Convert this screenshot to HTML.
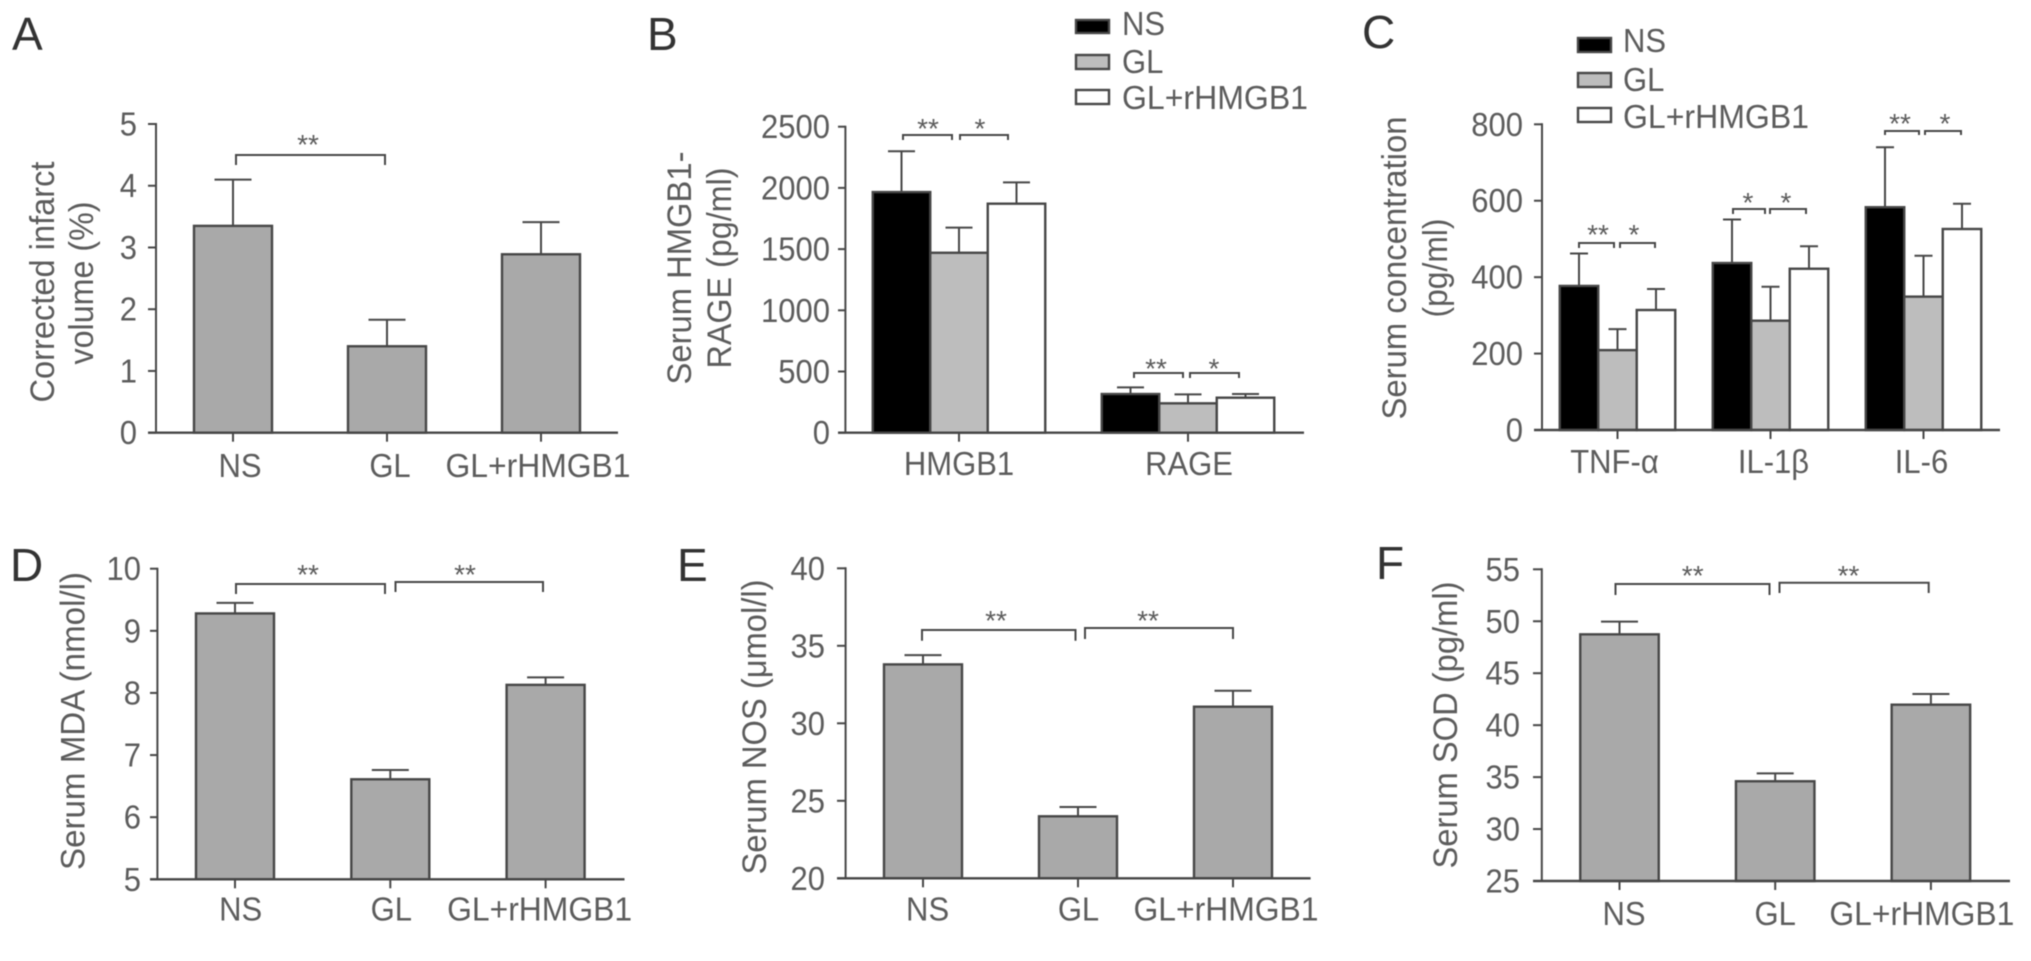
<!DOCTYPE html>
<html lang="en">
<head>
<meta charset="utf-8">
<title>Serum marker bar charts</title>
<style>
html,body{margin:0;padding:0;background:#fff;}
#figure{display:block;width:2031px;height:961px;background:#fff;filter:blur(0.5px);}
text{font-family:"Liberation Sans",sans-serif;fill:#5c5c5c;}
</style>
</head>
<body>
<svg id="figure" xmlns="http://www.w3.org/2000/svg" width="2031" height="961" viewBox="0 0 2031 961"></svg>
<script>
/* ---------- chart data ---------- */
const groupLabels = ['NS', 'GL', 'GL+rHMGB1'];

const aTicks = ['0', '1', '2', '3', '4', '5'];
const aValues = [3.35, 1.40, 2.89];
const aErrors = [0.75, 0.43, 0.52];

const bTicks = ['0', '500', '1000', '1500', '2000', '2500'];
const bCategories = ['HMGB1', 'RAGE'];
const bNS = [1966, 316];
const bGL = [1470, 240];
const bRescue = [1871, 286];
const bNSErr = [333, 54];
const bGLErr = [205, 73];
const bRescueErr = [174, 30];

const cTicks = ['0', '200', '400', '600', '800'];
const cCategories = ['TNF-α', 'IL-1β', 'IL-6'];
const cNS = [377, 437, 583];
const cGL = [209, 286, 349];
const cRescue = [314, 422, 526];
const cNSErr = [85, 114, 157];
const cGLErr = [55, 89, 107];
const cRescueErr = [55, 59, 66];

const dTicks = ['5', '6', '7', '8', '9', '10'];
const dValues = [9.28, 6.61, 8.13];
const dErrors = [0.17, 0.15, 0.12];

const eTicks = ['20', '25', '30', '35', '40'];
const eValues = [33.8, 24.0, 31.07];
const eErrors = [0.6, 0.6, 1.03];

const fTicks = ['25', '30', '35', '40', '45', '50', '55'];
const fValues = [48.74, 34.6, 41.97];
const fErrors = [1.22, 0.76, 1.03];

/* ---------- drawing helpers ---------- */
const svg = document.getElementById('figure');
const NS_URI = 'http://www.w3.org/2000/svg';
const INK = '#474747';
const TALL_TEXT = 1.07;

function shape(parent, tag, props, name) {
  const el = document.createElementNS(NS_URI, tag);
  for (const k in props) el.setAttribute(k, props[k]);
  
  
  parent.appendChild(el);
  return el;
}
function line(parent, x1, y1, x2, y2, name, width) {
  return shape(parent, 'line', {x1: x1, y1: y1, x2: x2, y2: y2, stroke: INK, 'stroke-width': width || 2}, name);
}
function label(parent, str, x, y, size, anchor, name, fit, rotate, color) {
  const props = {x: x, y: y, 'font-size': size, 'text-anchor': anchor};
  if (rotate) props.transform = 'rotate(-90 ' + x + ' ' + y + ')';
  if (color) props.style = 'fill:' + color;
  const el = shape(parent, 'text', props, name);
  el.textContent = str;
  /* the reference type is slightly taller than it is wide */
  let length = fit;
  if (size === 31 || size === 32) {
    if (!length) length = el.getComputedTextLength();
    el.setAttribute('font-size', size * TALL_TEXT);
  }
  if (length) {
    el.setAttribute('textLength', length);
    el.setAttribute('lengthAdjust', 'spacingAndGlyphs');
  }
  return el;
}

function drawPanel(p) {
  const g = shape(svg, 'g', {}, 'panel-' + p.letter.toLowerCase());
  label(g, p.letter, p.letterX, p.letterY, 46, 'start', 'panel-letter-' + p.letter.toLowerCase(), null, false, '#333');

  const yScale = function (v) {
    return p.y0 + (v - p.min) / (p.max - p.min) * (p.y1 - p.y0);
  };
  const xCenter = function (i) { return p.first + i * p.step; };

  /* bars and error bars */
  p.series.forEach(function (s, si) {
    s.values.forEach(function (v, i) {
      const offset = (si - (p.series.length - 1) / 2) * p.barW;
      const cx = xCenter(i) + offset;
      const top = yScale(v);
      const errTop = yScale(v + s.errors[i]);
      line(g, cx, top, cx, errTop, 'error-stem-' + s.key + '-' + i);
      line(g, cx - p.cap, errTop, cx + p.cap, errTop, 'error-cap-' + s.key + '-' + i);
      shape(g, 'rect', {
        x: cx - p.barW / 2, y: top, width: p.barW, height: p.y0 - top,
        fill: s.fill, stroke: INK, 'stroke-width': 2.4
      }, 'bar-' + s.key + '-' + i);
    });
  });

  /* axes */
  line(g, p.axisX, p.y1 - 1, p.axisX, p.y0, 'y-axis-line');
  line(g, p.tickLeft, p.y0, p.axisEnd, p.y0, 'x-axis-line', 2.4);
  p.ticks.forEach(function (t, i) {
    const v = p.min + i * (p.max - p.min) / (p.ticks.length - 1);
    const y = yScale(v);
    line(g, p.tickLeft, y, p.axisX, y, 'y-tick-' + t);
    label(g, t, p.tickRight, y + 11.5, 31, 'end', 'y-tick-label-' + t);
  });
  p.categories.forEach(function (c, i) {
    const cx = xCenter(i);
    line(g, cx, p.y0, cx, p.y0 + 9, 'x-tick-' + c);
    label(g, c, cx + p.labelDx[i], p.labelY, 31, 'middle', 'x-label-' + c,
      c === 'GL+rHMGB1' ? 185 : null);
  });

  /* axis titles */
  p.titles.forEach(function (t) {
    label(g, t.text, t.x, t.y, 32, 'middle', 'y-axis-title', t.fit, true);
  });

  /* significance brackets */
  p.brackets.forEach(function (b) {
    shape(g, 'path', {
      d: 'M' + b.x1 + ' ' + b.bot + 'V' + b.top + 'H' + b.x2 + 'V' + b.bot,
      fill: 'none', stroke: INK, 'stroke-width': 2
    }, 'significance-bracket');
    label(g, b.mark, b.sx, b.sy + 16, 28, 'middle', 'significance-stars');
  });

  /* legend */
  if (p.legend) {
    p.series.forEach(function (s, si) {
      const row = p.legend.rows[si];
      shape(g, 'rect', {
        x: p.legend.x, y: row.y, width: p.legend.w, height: row.h,
        fill: s.fill, stroke: INK, 'stroke-width': 2.4
      }, 'legend-swatch-' + s.key);
      label(g, groupLabels[si], p.legend.textX, row.base, 31, 'start', 'legend-label-' + s.key,
        si === 2 ? 186 : null);
    });
  }
}

const BAR_GREY = '#a9a9a9';
const BAR_BLACK = '#000000';
const BAR_LIGHT = '#bdbdbd';
const BAR_WHITE = '#ffffff';

drawPanel({
  letter: 'A', letterX: 12, letterY: 50,
  min: 0, max: 5, y0: 432.7, y1: 124,
  axisX: 156, tickLeft: 148, axisEnd: 618, tickRight: 137,
  ticks: aTicks, categories: groupLabels,
  first: 233, step: 154, barW: 78, cap: 18.5,
  labelDx: [7, 3, -3], labelY: 477,
  series: [{key: 'ns-gl-rhmgb1', values: aValues, errors: aErrors, fill: BAR_GREY}],
  titles: [
    {text: 'Corrected infarct', x: 54, y: 282, fit: 241},
    {text: 'volume (%)', x: 93, y: 283, fit: 163}
  ],
  brackets: [{x1: 236, x2: 385, top: 155, bot: 165, mark: '**', sx: 308, sy: 138}]
});

drawPanel({
  letter: 'B', letterX: 647, letterY: 50,
  min: 0, max: 2500, y0: 432.7, y1: 126.7,
  axisX: 845.4, tickLeft: 838, axisEnd: 1304, tickRight: 830,
  ticks: bTicks, categories: bCategories,
  first: 959, step: 229, barW: 57.5, cap: 13.5,
  labelDx: [0, 1], labelY: 475,
  series: [
    {key: 'ns', values: bNS, errors: bNSErr, fill: BAR_BLACK},
    {key: 'gl', values: bGL, errors: bGLErr, fill: BAR_LIGHT},
    {key: 'gl-rhmgb1', values: bRescue, errors: bRescueErr, fill: BAR_WHITE}
  ],
  titles: [
    {text: 'Serum HMGB1-', x: 691, y: 268, fit: 233},
    {text: 'RAGE (pg/ml)', x: 731, y: 268, fit: 201}
  ],
  brackets: [
    {x1: 903, x2: 952, top: 135, bot: 140, mark: '**', sx: 928, sy: 122},
    {x1: 960, x2: 1008, top: 135, bot: 140, mark: '*', sx: 980, sy: 122},
    {x1: 1134, x2: 1183, top: 373, bot: 378, mark: '**', sx: 1156, sy: 362},
    {x1: 1190, x2: 1239, top: 373, bot: 378, mark: '*', sx: 1214, sy: 362}
  ],
  legend: {x: 1076, w: 33, textX: 1122, rows: [
    {y: 20, h: 13, base: 35}, {y: 55, h: 14, base: 73}, {y: 90, h: 14, base: 109}
  ]}
});

drawPanel({
  letter: 'C', letterX: 1362, letterY: 48,
  min: 0, max: 800, y0: 430, y1: 124.3,
  axisX: 1542, tickLeft: 1534, axisEnd: 2000, tickRight: 1523,
  ticks: cTicks, categories: cCategories,
  first: 1617.5, step: 153, barW: 38.5, cap: 9,
  labelDx: [-3, 3, -2], labelY: 473,
  series: [
    {key: 'ns', values: cNS, errors: cNSErr, fill: BAR_BLACK},
    {key: 'gl', values: cGL, errors: cGLErr, fill: BAR_LIGHT},
    {key: 'gl-rhmgb1', values: cRescue, errors: cRescueErr, fill: BAR_WHITE}
  ],
  titles: [
    {text: 'Serum concentration', x: 1406, y: 268, fit: 303},
    {text: '(pg/ml)', x: 1447, y: 268, fit: 99}
  ],
  brackets: [
    {x1: 1579, x2: 1614, top: 243, bot: 248, mark: '**', sx: 1598, sy: 228},
    {x1: 1620, x2: 1655, top: 243, bot: 248, mark: '*', sx: 1634, sy: 228},
    {x1: 1733, x2: 1765, top: 209, bot: 214, mark: '*', sx: 1748, sy: 196},
    {x1: 1770, x2: 1806, top: 209, bot: 214, mark: '*', sx: 1786, sy: 196},
    {x1: 1885, x2: 1919, top: 131, bot: 135, mark: '**', sx: 1900, sy: 117},
    {x1: 1925, x2: 1961, top: 131, bot: 135, mark: '*', sx: 1945, sy: 117}
  ],
  legend: {x: 1578, w: 33, textX: 1623, rows: [
    {y: 38, h: 14, base: 52}, {y: 73, h: 14, base: 91}, {y: 108, h: 14, base: 128}
  ]}
});

drawPanel({
  letter: 'D', letterX: 10, letterY: 581,
  min: 5, max: 10, y0: 879.3, y1: 568.7,
  axisX: 157.4, tickLeft: 150, axisEnd: 624.5, tickRight: 141,
  ticks: dTicks, categories: groupLabels,
  first: 235, step: 155.3, barW: 78, cap: 18.5,
  labelDx: [5.7, 1, -6], labelY: 920.7,
  series: [{key: 'ns-gl-rhmgb1', values: dValues, errors: dErrors, fill: BAR_GREY}],
  titles: [{text: 'Serum MDA (nmol/l)', x: 84.6, y: 721, fit: 298}],
  brackets: [
    {x1: 236, x2: 385, top: 584, bot: 594, mark: '**', sx: 308, sy: 568},
    {x1: 395.5, x2: 543, top: 582, bot: 592, mark: '**', sx: 465, sy: 568}
  ]
});

drawPanel({
  letter: 'E', letterX: 677, letterY: 581,
  min: 20, max: 40, y0: 878.3, y1: 568.3,
  axisX: 845.6, tickLeft: 837, axisEnd: 1310.6, tickRight: 825,
  ticks: eTicks, categories: groupLabels,
  first: 923, step: 155, barW: 78, cap: 18.5,
  labelDx: [4.6, 0.5, -7], labelY: 920.7,
  series: [{key: 'ns-gl-rhmgb1', values: eValues, errors: eErrors, fill: BAR_GREY}],
  titles: [{text: 'Serum NOS (μmol/l)', x: 766, y: 727, fit: 295}],
  brackets: [
    {x1: 922, x2: 1075.5, top: 630, bot: 640.7, mark: '**', sx: 996, sy: 614},
    {x1: 1085, x2: 1233, top: 628, bot: 639, mark: '**', sx: 1148, sy: 614}
  ]
});

drawPanel({
  letter: 'F', letterX: 1376, letterY: 579,
  min: 25, max: 55, y0: 881, y1: 569.3,
  axisX: 1541.8, tickLeft: 1533, axisEnd: 2010, tickRight: 1520,
  ticks: fTicks, categories: groupLabels,
  first: 1619.5, step: 155.7, barW: 78.5, cap: 18.5,
  labelDx: [4.5, 0, -9], labelY: 925,
  series: [{key: 'ns-gl-rhmgb1', values: fValues, errors: fErrors, fill: BAR_GREY}],
  titles: [{text: 'Serum SOD (pg/ml)', x: 1457, y: 725, fit: 287}],
  brackets: [
    {x1: 1615.5, x2: 1769.5, top: 584, bot: 595, mark: '**', sx: 1692.7, sy: 569},
    {x1: 1779.5, x2: 1928.7, top: 582.7, bot: 593, mark: '**', sx: 1848.5, sy: 569}
  ]
});
</script>
</body>
</html>
